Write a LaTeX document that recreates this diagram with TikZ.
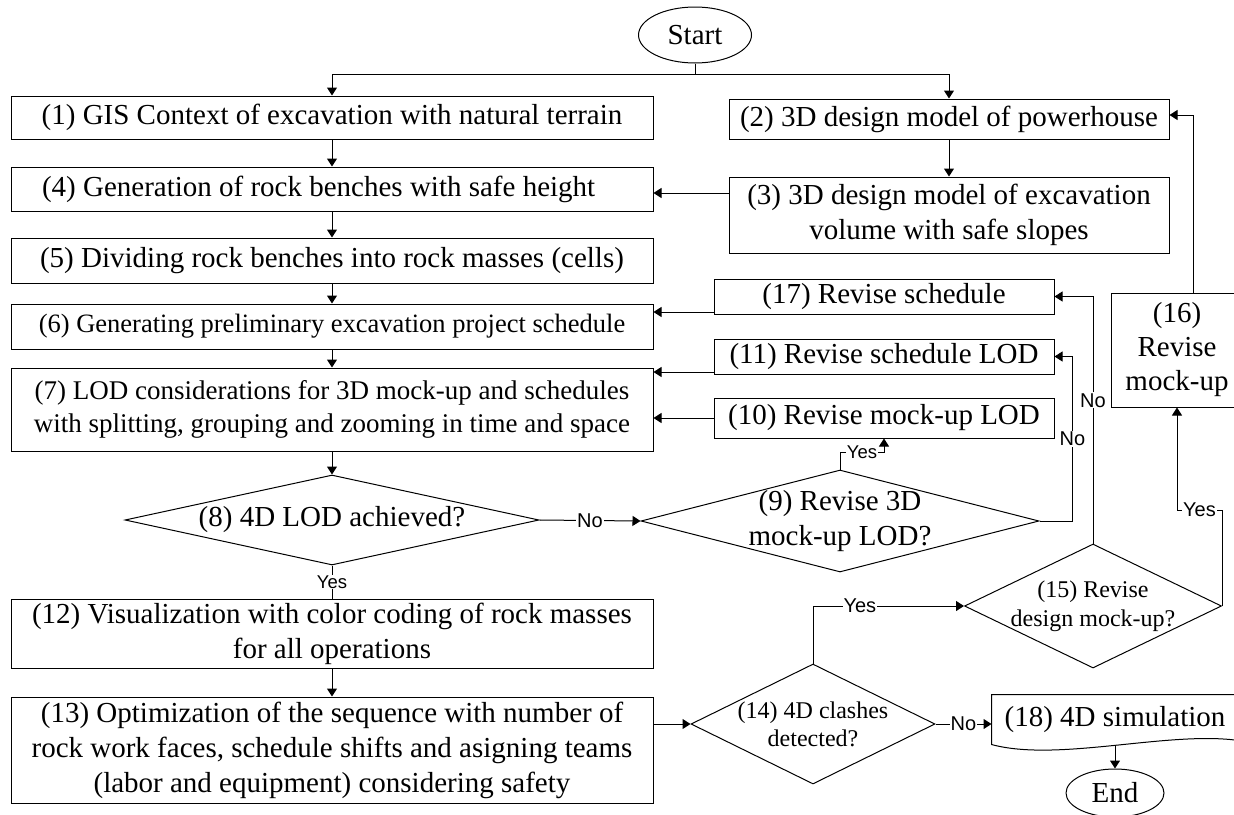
\documentclass[tikz,border=0pt]{standalone}
\usepackage{fontspec}
\setmainfont{Liberation Serif}
\newfontfamily\labelfont{Liberation Sans}
\usetikzlibrary{shapes.geometric,arrows.meta}

\begin{document}
\begin{tikzpicture}[x=1pt,y=-1pt,line width=1pt,
    box/.style={draw,rectangle,inner sep=0pt,align=center,font=\fontsize{29}{35}\selectfont},
    dia/.style={draw,diamond,inner sep=-8pt,align=center,font=\fontsize{29}{35}\selectfont},
    term/.style={draw,ellipse,inner sep=0pt,font=\fontsize{29}{35}\selectfont},
    arr/.style={-{Triangle[length=8pt,width=10pt]}},
    lbl/.style={fill=white,inner sep=1pt,font=\labelfont\fontsize{20}{24}\selectfont},
    slbl/.style={lbl,font=\labelfont\fontsize{18.5}{22}\selectfont}]
    \useasboundingbox (0,0) rectangle (1234,814);

    \node[term,minimum width=113pt,minimum height=56pt] (S) at (695,35) {Start};
    \node[box,minimum width=642pt,minimum height=43pt] (B1) at (332,117.5)
        {(1) GIS Context of excavation with natural terrain};
    \node[box,minimum width=440pt,minimum height=40pt] (B2) at (949,119)
        {(2) 3D design model of powerhouse};
    \node[box,minimum width=440pt,minimum height=76pt] (B3) at (949,215)
        {(3) 3D design model of excavation\\volume with safe slopes};
    \node[box,minimum width=642pt,minimum height=44pt,text width=580pt,align=flush left] (B4) at (332,189)
        {(4) Generation of rock benches with safe height};
    \node[box,minimum width=642pt,minimum height=45pt] (B5) at (332,260.5)
        {(5) Dividing rock benches into rock masses (cells)};
    \node[box,minimum width=642pt,minimum height=45pt,font=\fontsize{26.5}{32}\selectfont] (B6) at (332,326.5)
        {(6) Generating preliminary excavation project schedule};
    \node[box,minimum width=642pt,minimum height=83pt,font=\fontsize{27}{33}\selectfont] (B7) at (332,409.5)
        {(7) LOD considerations for 3D mock-up and schedules\\with splitting, grouping and zooming in time and space};
    \node[dia,aspect=4.6,minimum width=414pt,minimum height=90pt] (D8) at (332,520)
        {(8) 4D LOD achieved?};
    \node[dia,aspect=3.9,minimum width=398pt,minimum height=102pt] (D9) at (840,521)
        {(9) Revise 3D\\mock-up LOD?};
    \node[box,minimum width=340pt,minimum height=40pt] (B10) at (884,418) {(10) Revise mock-up LOD};
    \node[box,minimum width=340pt,minimum height=35pt] (B11) at (884,356.5) {(11) Revise schedule LOD};
    \node[box,minimum width=642pt,minimum height=69pt] (B12) at (332,633.5)
        {(12) Visualization with color coding of rock masses\\for all operations};
    \node[box,minimum width=642pt,minimum height=106pt] (B13) at (332,750)
        {(13) Optimization of the sequence with number of\\rock work faces, schedule shifts and asigning teams\\(labor and equipment) considering safety};
    \node[dia,aspect=2,minimum width=244pt,minimum height=120pt,font=\fontsize{24}{28}\selectfont] (D14) at (813,724)
        {(14) 4D clashes\\detected?};
    \node[dia,aspect=2,minimum width=257pt,minimum height=124pt,font=\fontsize{24}{29}\selectfont] (D15) at (1093,606)
        {(15) Revise\\design mock-up?};
    \node[box,minimum width=132pt,minimum height=114pt,font=\fontsize{29}{34}\selectfont] (B16) at (1177,350)
        {(16)\\Revise\\mock-up};
    \node[box,minimum width=340pt,minimum height=35pt] (B17) at (884,296.5) {(17) Revise schedule};
    \node[inner sep=0pt,minimum width=246pt,minimum height=49pt,font=\fontsize{29}{35}\selectfont] (B18) at (1115,719.5)
        {(18) 4D simulation};
    \node[term,minimum width=98pt,minimum height=48pt] (E) at (1115,793) {End};

    \draw (B18.south west) .. controls ([xshift=66pt,yshift=-18pt]B18.south west)
        and ([xshift=-70pt,yshift=14pt]B18.south east) .. ([yshift=4pt]B18.south east)
        -- (B18.north east) -- (B18.north west) -- cycle;

    \coordinate (S1) at (S.south |- 0,74);
    \draw (S.south) -- (S1);
    \draw[arr] (S1) -| (B1.north);
    \draw[arr] (S1) -| (B2.north);
    \draw[arr] (B1) -- (B4);
    \draw[arr] (B4) -- (B5);
    \draw[arr] (B5) -- (B6);
    \draw[arr] (B6) -- (B7);
    \draw[arr] (B7) -- (D8);
    \draw[arr] (B2) -- (B3);
    \draw[arr] (B3.west |- 0,193) -- (B4.east |- 0,193);
    \draw[arr] (B17.west |- 0,312) -- (B6.east |- 0,312);
    \draw[arr] (B11.west |- 0,372) -- (B7.east |- 0,372);
    \draw[arr] (B10.west) -- (B7.east |- B10.west);
    \draw[arr] (D8.east) -- node[lbl] {No} (D9.west);
    \draw (D8.south) -- node[slbl] {Yes} (B12.north);
    \draw[arr] (D9.north) -- (D9.north |- 0,452) -| node[slbl,pos=0.25] {Yes} (B10.south);
    \draw[arr] (D9.east) -- ++(33,0) |- node[lbl,pos=0.25] {No} (B11.east);
    \draw[arr] (D15.north) |- node[lbl,pos=0.29] {No} (B17.east);
    \draw[arr] (D15.east) -- (D15.east |- 0,510) -| node[lbl,pos=0.25] {Yes} (B16.south);
    \draw[arr] ([xshift=16pt]B16.north) |- (B2.east |- 0,115);
    \draw[arr] (B12) -- (B13);
    \draw[arr] (B13.east |- D14.west) -- (D14.west);
    \draw[arr] (D14.north) |- node[lbl,pos=0.655] {Yes} (D15.west);
    \draw[arr] (D14.east) -- node[lbl] {No} (B18.west |- D14.east);
    \draw[arr] (B18.south) -- (E.north);
\end{tikzpicture}
\end{document}
